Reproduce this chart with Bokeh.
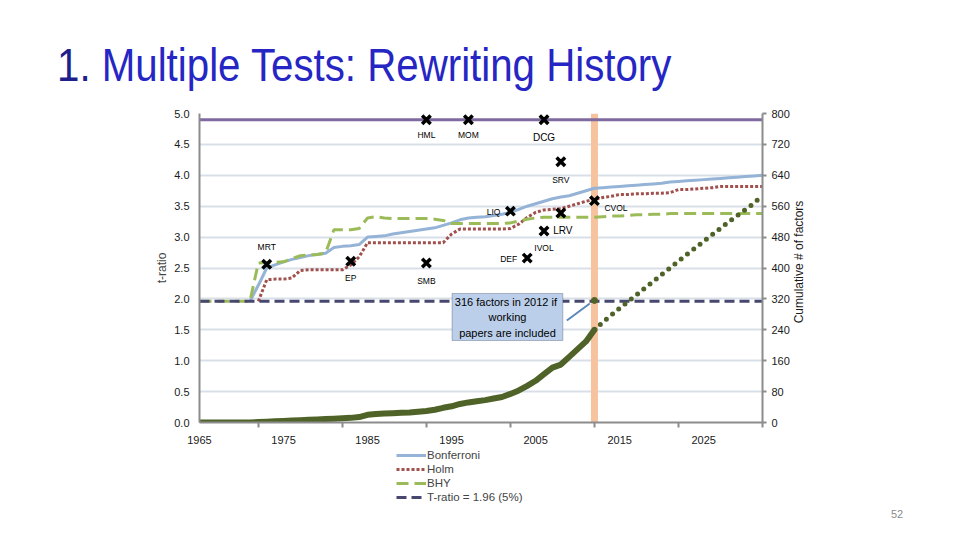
import math
from bokeh.plotting import figure
from bokeh.layouts import column, row
from bokeh.models import (Range1d, LinearAxis, FixedTicker, PrintfTickFormatter, Legend,
                          LegendItem, Label, BoxAnnotation, Span, Arrow, ColumnDataSource, Div)
from bokeh.core.properties import value
from bokeh.embed import file_html
from bokeh.resources import INLINE

nan = float("nan")

# ---------------- data ----------------
years = list(range(1965, 2033))
bonferroni = [nan] * 6 + [
    1.96, 2.22, 2.50, 2.55, 2.60, 2.64, 2.67, 2.70, 2.72, 2.74,
    2.83, 2.85, 2.86, 2.88, 3.00, 3.01, 3.02, 3.05, 3.07, 3.09,
    3.11, 3.13, 3.15, 3.19, 3.23, 3.28, 3.31, 3.32, 3.33, 3.35,
    3.37, 3.40, 3.45, 3.50, 3.54, 3.58, 3.62, 3.65, 3.67, 3.71,
    3.75, 3.79, 3.80, 3.81, 3.82, 3.83, 3.84, 3.85, 3.86, 3.87,
    3.89, 3.90, 3.91, 3.92, 3.93, 3.94, 3.95, 3.96, 3.97, 3.98,
    3.99, 4.00]
holm = [nan] * 7 + [
    1.96, 2.31, 2.32, 2.32, 2.34, 2.46, 2.47, 2.47, 2.47, 2.47,
    2.47, 2.55, 2.68, 2.91, 2.91, 2.91, 2.91, 2.91, 2.91, 2.91,
    2.91, 2.91, 2.91, 3.05, 3.13, 3.13, 3.13, 3.13, 3.13, 3.13,
    3.14, 3.21, 3.32, 3.40, 3.44, 3.45, 3.46, 3.50, 3.54, 3.58,
    3.61, 3.64, 3.66, 3.69, 3.69, 3.70, 3.70, 3.71, 3.71, 3.72,
    3.77, 3.77, 3.78, 3.79, 3.80, 3.82, 3.82, 3.82, 3.82, 3.82,
    3.82]
bhy = [
    1.96, 1.96, 1.96, 1.96, 1.96, 1.96, 1.96, 2.58, 2.59, 2.59,
    2.60, 2.65, 2.70, 2.71, 2.72, 2.74, 3.12, 3.12, 3.12, 3.14,
    3.31, 3.33, 3.31, 3.30, 3.30, 3.30, 3.30, 3.30, 3.29, 3.27,
    3.22, 3.22, 3.22, 3.22, 3.22, 3.22, 3.22, 3.23, 3.26, 3.29,
    3.31, 3.32, 3.32, 3.32, 3.32, 3.32, 3.32, 3.32, 3.33, 3.34,
    3.34, 3.35, 3.36, 3.36, 3.37, 3.37, 3.38, 3.38, 3.38, 3.38,
    3.38, 3.38, 3.38, 3.38, 3.38, 3.38, 3.38, 3.38]
t_ratio_5pct = 1.96
upper_threshold = 4.90

cum_years = list(range(1965, 2013))
cum_factors = [
    0, 0, 0, 0, 0, 0, 0, 1, 2, 3,
    4, 5, 6, 7, 8, 9, 10, 11, 12, 14,
    20, 22, 23, 24, 25, 26, 28, 30, 33, 38,
    42, 48, 52, 55, 58, 62, 66, 74, 83, 95,
    108, 125, 142, 150, 170, 190, 210, 240]
proj_years = list(range(2012, 2033))
proj_factors = [240, 260, 278, 296, 313, 330, 348, 365, 383, 400,
                418, 435, 452, 469, 486, 503, 520, 536, 552, 568, 588]
wp_year = 2012
wp_factors = 316

factor_names = ["HML", "MOM", "DCG", "SRV", "CVOL", "LIQ", "LRV", "IVOL", "DEF", "MRT", "EP", "SMB"]
factor_years = [1992, 1997, 2006, 2008, 2012, 2002, 2008, 2006, 2004, 1973, 1983, 1992]
factor_t = [4.90, 4.90, 4.90, 4.22, 3.59, 3.42, 3.39, 3.10, 2.66, 2.56, 2.61, 2.58]

x_labels = [1965, 1975, 1985, 1995, 2005, 2015, 2025]
x_ticks = [1972, 1982, 1992, 2002, 2012, 2022, 2032]
t_ticks = [0.0, 0.5, 1.0, 1.5, 2.0, 2.5, 3.0, 3.5, 4.0, 4.5, 5.0]
n_ticks = [0, 80, 160, 240, 320, 400, 480, 560, 640, 720, 800]

legend_labels = ["Bonferroni", "Holm", "BHY", "T-ratio = 1.96 (5%)"]
left_axis_title = "t-ratio"
right_axis_title = "Cumulative # of factors"
title_num = "1."
title_text = "Multiple Tests: Rewriting History"
note_text = "316  factors in 2012 if\nworking\npapers are included"
page_number = "52"

# ---------------- styles ----------------
FONT = "Liberation Sans"
label_style = {  # dx, dy (px), align, size
    "HML": (0, 15, "center", "8.5px"), "MOM": (0, 15, "center", "8.5px"),
    "DCG": (0, 18, "center", "10px"), "SRV": (0, 18, "center", "8.5px"),
    "CVOL": (10, 7, "left", "8.5px"), "LIQ": (-10, 1, "right", "8.5px"),
    "LRV": (2, 18, "center", "10px"), "IVOL": (0, 17, "center", "8.5px"),
    "DEF": (-10, 1, "right", "8.5px"), "MRT": (0, -17, "center", "8.5px"),
    "EP": (0, 17, "center", "8.5px"), "SMB": (0, 18, "center", "8.5px"),
}
series_style = [
    dict(line_color="#95B3D7", line_width=3),
    dict(line_color="#A0504D", line_width=3, line_dash="3 2"),
    dict(line_color="#9BBB59", line_width=3, line_dash="12 6"),
    dict(line_color="#48476F", line_width=3, line_dash="10 5"),
]

W = 960
HEAD_H, FIG_H, LEG_H, FOOT_H = 105, 342, 58, 25
FIG_W = 792                         # chart canvas; the rest of the row holds the right axis title
X0, X1 = 1965, 2032
T0, T1 = 0, 5
L, R, TOP, BOT = 199, 763, 113, 422   # plot frame in page pixels


def px_x(px):
    return X0 + (px - L) * (X1 - X0) / (R - L)


def px_y(py):
    return T0 + (BOT - py) * (T1 - T0) / (BOT - TOP)


head = Div(text=(f'<div style="font-family:\'Liberation Sans\',sans-serif;'
                 f'font-size:46px;line-height:46px;padding:42px 0 0 57px;white-space:nowrap;">'
                 f'<span style="display:inline-block;transform:scaleX(0.875);transform-origin:0 50%;">'
                 f'<span style="color:#1E1E8C">{title_num}</span>'
                 f'<span style="color:#2626C4"> {title_text}</span></span></div>'),
           width=W, height=HEAD_H, margin=(0, 0, 0, 0))
foot = Div(text=(f'<div style="font-family:\'Liberation Sans\',sans-serif;font-size:11px;'
                 f'line-height:18px;color:#8C8C8C;padding-left:891px;">{page_number}</div>'),
           width=W, height=FOOT_H, margin=(0, 0, 0, 0))
rtitle = Div(text=(f'<div style="position:relative;width:40px;height:{FIG_H}px;">'
                   f'<span style="position:absolute;left:{800 - FIG_W}px;top:{262 - HEAD_H}px;'
                   f'transform:translate(-50%,-50%) rotate(-90deg);white-space:nowrap;'
                   f'font-family:\'Liberation Sans\',sans-serif;font-size:12px;color:#1a1a1a;">'
                   f'{right_axis_title}</span></div>'),
             width=W - FIG_W, height=FIG_H, margin=(0, 0, 0, 0))

p = figure(width=FIG_W, height=FIG_H, x_range=Range1d(X0, X1), y_range=Range1d(T0, T1),
           output_backend="svg", toolbar_location=None, title=None,
           min_border_left=L, min_border_right=FIG_W - R,
           min_border_top=TOP - HEAD_H, min_border_bottom=HEAD_H + FIG_H - BOT,
           margin=(0, 0, 0, 0))
p.outline_line_color = None
p.background_fill_color = "white"
p.border_fill_color = "white"
p.extra_y_ranges = {"factors": Range1d(n_ticks[0], n_ticks[-1])}

# axes
xa = p.xaxis[0]
xa.ticker = FixedTicker(ticks=x_labels, minor_ticks=x_ticks)
xa.major_tick_out = 0
xa.major_tick_in = 0
xa.minor_tick_out = 5
xa.minor_tick_in = 0
xa.minor_tick_line_color = "#8C8C8C"
xa.minor_tick_line_width = 2
xa.axis_line_color = "#8C8C8C"
xa.axis_line_width = 2
xa.major_label_standoff = 8
xa.major_label_text_font = FONT
xa.major_label_text_font_size = "11px"
xa.major_label_text_color = "#1a1a1a"

ya = p.yaxis[0]
ya.ticker = FixedTicker(ticks=t_ticks)
ya.formatter = PrintfTickFormatter(format="%.1f")
ya.major_tick_out = 0
ya.major_tick_in = 0
ya.minor_tick_out = 0
ya.minor_tick_in = 0
ya.axis_line_color = "#8C8C8C"
ya.axis_line_width = 2
ya.major_label_standoff = 10
ya.major_label_text_font = FONT
ya.major_label_text_font_size = "11px"
ya.major_label_text_color = "#1a1a1a"
ya.axis_label = left_axis_title
ya.axis_label_text_font = FONT
ya.axis_label_text_font_size = "12px"
ya.axis_label_text_font_style = "normal"
ya.axis_label_standoff = 2

ra = LinearAxis(y_range_name="factors", ticker=FixedTicker(ticks=n_ticks))
ra.major_tick_out = 4
ra.major_tick_in = 0
ra.minor_tick_out = 0
ra.minor_tick_in = 0
ra.major_tick_line_color = "#8C8C8C"
ra.major_tick_line_width = 2
ra.axis_line_color = "#8C8C8C"
ra.axis_line_width = 2
ra.major_label_standoff = 5
ra.major_label_text_font = FONT
ra.major_label_text_font_size = "11px"
ra.major_label_text_color = "#1a1a1a"
p.add_layout(ra, "right")

p.xgrid.visible = False
p.ygrid.ticker = FixedTicker(ticks=t_ticks)
p.ygrid.grid_line_color = "#D9DFE7"
p.ygrid.grid_line_width = 2

# background band and thresholds
p.add_layout(Span(location=wp_year, dimension="height", line_color="#F6C39E",
                  line_width=7, level="underlay"))
p.add_layout(Span(location=upper_threshold, dimension="width", line_color="#7F6A9F",
                  line_width=3, level="underlay"))

src = ColumnDataSource(dict(year=years, bonf=bonferroni, holm=holm, bhy=bhy,
                            crit=[t_ratio_5pct] * len(years)))
cols = ["bonf", "holm", "bhy", "crit"]
for col, st in zip(cols, series_style):
    p.line("year", col, source=src, **st)

# cumulative factors
p.line(cum_years, cum_factors, y_range_name="factors", line_color="#4F6228",
       line_width=6, line_cap="round", line_join="round")
p.line(proj_years, proj_factors, y_range_name="factors", line_color="#4F6228",
       line_width=5, line_dash="0 8", line_cap="round")
p.scatter([wp_year], [wp_factors], y_range_name="factors", size=6,
          fill_color="#4F6228", line_color="#4F6228")

# factor markers and labels
fsrc = ColumnDataSource(dict(
    x=factor_years, y=factor_t, name=factor_names,
    dx=[label_style[n][0] for n in factor_names],
    dy=[label_style[n][1] for n in factor_names],
    align=[label_style[n][2] for n in factor_names],
    size=[label_style[n][3] for n in factor_names]))
p.scatter("x", "y", source=fsrc, marker="x", size=12, line_width=3.5, line_color="black")
p.text("x", "y", text="name", source=fsrc, x_offset="dx", y_offset="dy",
       text_align="align", text_baseline="middle", text_font_size="size",
       text_font=value(FONT), text_color="black")

# note box
p.add_layout(BoxAnnotation(left=px_x(452), right=px_x(563), top=px_y(293), bottom=px_y(340),
                           fill_color="#BCCFEA", fill_alpha=1.0, line_color="#1F2F4F",
                           line_width=1))
p.add_layout(Label(x=px_x(507.5), y=px_y(295), text=note_text, text_align="center",
                   text_baseline="top", text_font=FONT, text_font_size="11px",
                   text_line_height=1.3, text_color="black"))
p.add_layout(Arrow(end=None, x_start=px_x(567), y_start=px_y(320),
                   x_end=px_x(590), y_end=px_y(303),
                   line_color="#5C87B8", line_width=2))

# legend strip under the chart (its own canvas); its series lie outside its visible
# y-range, so only the legend shows
lg = figure(width=W, height=LEG_H, x_range=Range1d(X0, X1), y_range=Range1d(10, 11),
            output_backend="svg", toolbar_location=None, title=None,
            min_border_left=L, min_border_right=W - R, min_border_top=0, min_border_bottom=0,
            margin=(0, 0, 0, 0))
lg.axis.visible = False
lg.grid.visible = False
lg.outline_line_color = None
items = []
for lab, col, st in zip(legend_labels, cols, series_style):
    r = lg.line("year", col, source=src, **st)
    items.append(LegendItem(label=lab, renderers=[r]))
lg.add_layout(Legend(items=items, location=(396 - L, 1), orientation="vertical",
                     label_text_font=FONT, label_text_font_size="11.5px",
                     glyph_width=30, glyph_height=12, label_height=14, label_standoff=1,
                     spacing=0, padding=0, margin=0, border_line_color=None,
                     background_fill_alpha=0))

layout = column(head, row(p, rtitle, spacing=0, margin=(0, 0, 0, 0)), lg, foot,
                spacing=0, margin=(0, 0, 0, 0))
open("out.html", "w").write(file_html(layout, INLINE))
